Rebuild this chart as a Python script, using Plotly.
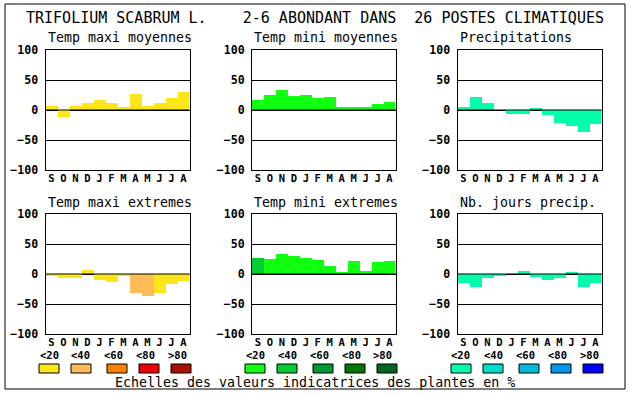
import plotly.graph_objects as go

W, H = 630, 394

months = ["S", "O", "N", "D", "J", "F", "M", "A", "M", "J", "J", "A"]
y_ticks = [-100, -50, 0, 50, 100]

titles = ["Temp maxi moyennes", "Temp mini moyennes", "Precipitations",
          "Temp maxi extremes", "Temp mini extremes", "Nb. jours precip."]

temp_maxi_moy = [7, -11, 7, 12, 17, 12, 5, 27, 7, 12, 20, 30]
temp_mini_moy = [17, 25, 34, 24, 25, 20, 22, 5, 5, 5, 10, 14]
precipitations = [5, 22, 12, 0, -6, -6, 2, -8, -21, -26, -37, -23]
temp_maxi_ext = [-4, -7, -7, 7, -10, -14, -2, -31, -37, -31, -17, -11]
temp_mini_ext = [27, 25, 33, 30, 27, 23, 13, 3, 22, 5, 20, 22]
nb_jours_precip = [-15, -21, -7, -3, 0, 5, -5, -10, -7, 2, -21, -15]

# colour class (0..4) of each bar
cls_maxi_moy = [0] * 12
cls_mini_moy = [0] * 12
cls_precip = [0] * 12
cls_maxi_ext = [0, 0, 0, 0, 0, 0, 0, 1, 1, 0, 0, 0]
cls_mini_ext = [1, 0, 0, 0, 0, 0, 0, 0, 0, 0, 0, 0]
cls_jours = [0] * 12

scale_labels = ["<20", "<40", "<60", "<80", ">80"]
warm_colors = ["#FCE619", "#FFBB55", "#FF8000", "#EE0000", "#AA1100"]
green_colors = ["#11FF11", "#00CC33", "#009933", "#007700", "#006622"]
blue_colors = ["#00FFAA", "#00DDCC", "#00BBDD", "#0099EE", "#0000FF"]

main_title = "TRIFOLIUM SCABRUM L.    2-6 ABONDANT DANS  26 POSTES CLIMATIQUES"
footer = "Echelles des valeurs indicatrices des plantes en %"

series = [temp_maxi_moy, temp_mini_moy, precipitations,
          temp_maxi_ext, temp_mini_ext, nb_jours_precip]
classes = [cls_maxi_moy, cls_mini_moy, cls_precip,
           cls_maxi_ext, cls_mini_ext, cls_jours]
palettes = [warm_colors, green_colors, blue_colors,
            warm_colors, green_colors, blue_colors]

def px(x):
    return x / W

def py(y):
    return 1 - y / H

col_x = [(45.5, 189.5), (252, 395.5), (457.5, 601.5)]
row_y = [(50, 170), (214, 334)]

MONO = "DejaVu Sans Mono"
fig = go.Figure()
shapes = []
annotations = []

for i in range(6):
    r, c = divmod(i, 3)
    n = i + 1
    xa = "x" if n == 1 else f"x{n}"
    ya = "y" if n == 1 else f"y{n}"
    pal = palettes[i]
    fig.add_trace(go.Bar(
        x=list(range(12)), y=series[i],
        marker=dict(color=[pal[k] for k in classes[i]], line=dict(width=0)),
        width=1.0, xaxis=xa, yaxis=ya, showlegend=False, hoverinfo="skip"))
    x0, x1 = col_x[c]
    y0, y1 = row_y[r]
    axx = dict(domain=[px(x0), px(x1)], anchor=ya, range=[-0.5, 11.5],
               tickvals=list(range(12)), ticktext=months, ticks="", ticklen=0,
               showgrid=False, zeroline=False, showline=True, mirror=True,
               linecolor="black", linewidth=1, fixedrange=True, automargin=False,
               tickfont=dict(family=MONO, size=10.5, color="black", weight="bold"),
               ticklabelstandoff=-2)
    axy = dict(domain=[py(y1), py(y0)], anchor=xa, range=[-100, 100],
               tickvals=y_ticks, ticks="", showgrid=True, gridcolor="black",
               gridwidth=1, zeroline=False, showline=True, mirror=True,
               linecolor="black", linewidth=1, fixedrange=True, automargin=False,
               tickfont=dict(family=MONO, size=11.6, color="black", weight="bold"),
               ticklabelstandoff=4)
    fig.update_layout(**{("xaxis" if n == 1 else f"xaxis{n}"): axx,
                         ("yaxis" if n == 1 else f"yaxis{n}"): axy})
    # zero line above bars
    shapes.append(dict(type="line", xref=f"{xa} domain", yref=ya, x0=0, x1=1,
                       y0=0, y1=0, line=dict(color="black", width=1.2), layer="above"))
    annotations.append(dict(text=titles[i], xref="paper", yref="paper",
                            x=px(x0), y=py(y0 - 12), xanchor="left", yanchor="middle",
                            showarrow=False,
                            font=dict(family=MONO, size=13.3, color="black")))

# scale legends
label_off = [0, 32, 64, 96, 128]
box_off = [0, 32, 68, 100, 132]
bases = [49, 255, 461]
for c, base in enumerate(bases):
    pal = palettes[c]
    for k in range(5):
        annotations.append(dict(text=scale_labels[k], xref="paper", yref="paper",
                                x=px(base + label_off[k]), y=py(355),
                                xanchor="center", yanchor="middle", showarrow=False,
                                font=dict(family=MONO, size=10.5, color="black",
                                          weight="bold")))
        bx = base + box_off[k]
        shapes.append(dict(type="rect", xref="paper", yref="paper",
                           x0=px(bx - 10), x1=px(bx + 10), y0=py(373), y1=py(364),
                           fillcolor=pal[k], line=dict(color="black", width=1)))

annotations.append(dict(text=main_title.replace(" ", "&nbsp;"), xref="paper", yref="paper",
                        x=px(315), y=py(18), xanchor="center", yanchor="middle",
                        showarrow=False,
                        font=dict(family=MONO, size=15, color="black")))
annotations.append(dict(text=footer, xref="paper", yref="paper",
                        x=px(315), y=py(382), xanchor="center", yanchor="middle",
                        showarrow=False,
                        font=dict(family=MONO, size=13.3, color="black")))

# outer frame
shapes.append(dict(type="rect", xref="paper", yref="paper",
                   x0=px(5), x1=px(625), y0=py(389), y1=py(4),
                   line=dict(color="black", width=1)))

fig.update_layout(template="none", width=W, height=H,
                  margin=dict(l=0, r=0, t=0, b=0, pad=0, autoexpand=False),
                  paper_bgcolor="white", plot_bgcolor="white",
                  bargap=0, shapes=shapes, annotations=annotations)
post = (
    "var s='margin:0;padding:0;overflow:hidden;';"
    "document.documentElement.style.cssText=s;"
    "document.body.style.cssText=s;"
)
fig.write_html("out.html", config={"displayModeBar": False}, post_script=post)
